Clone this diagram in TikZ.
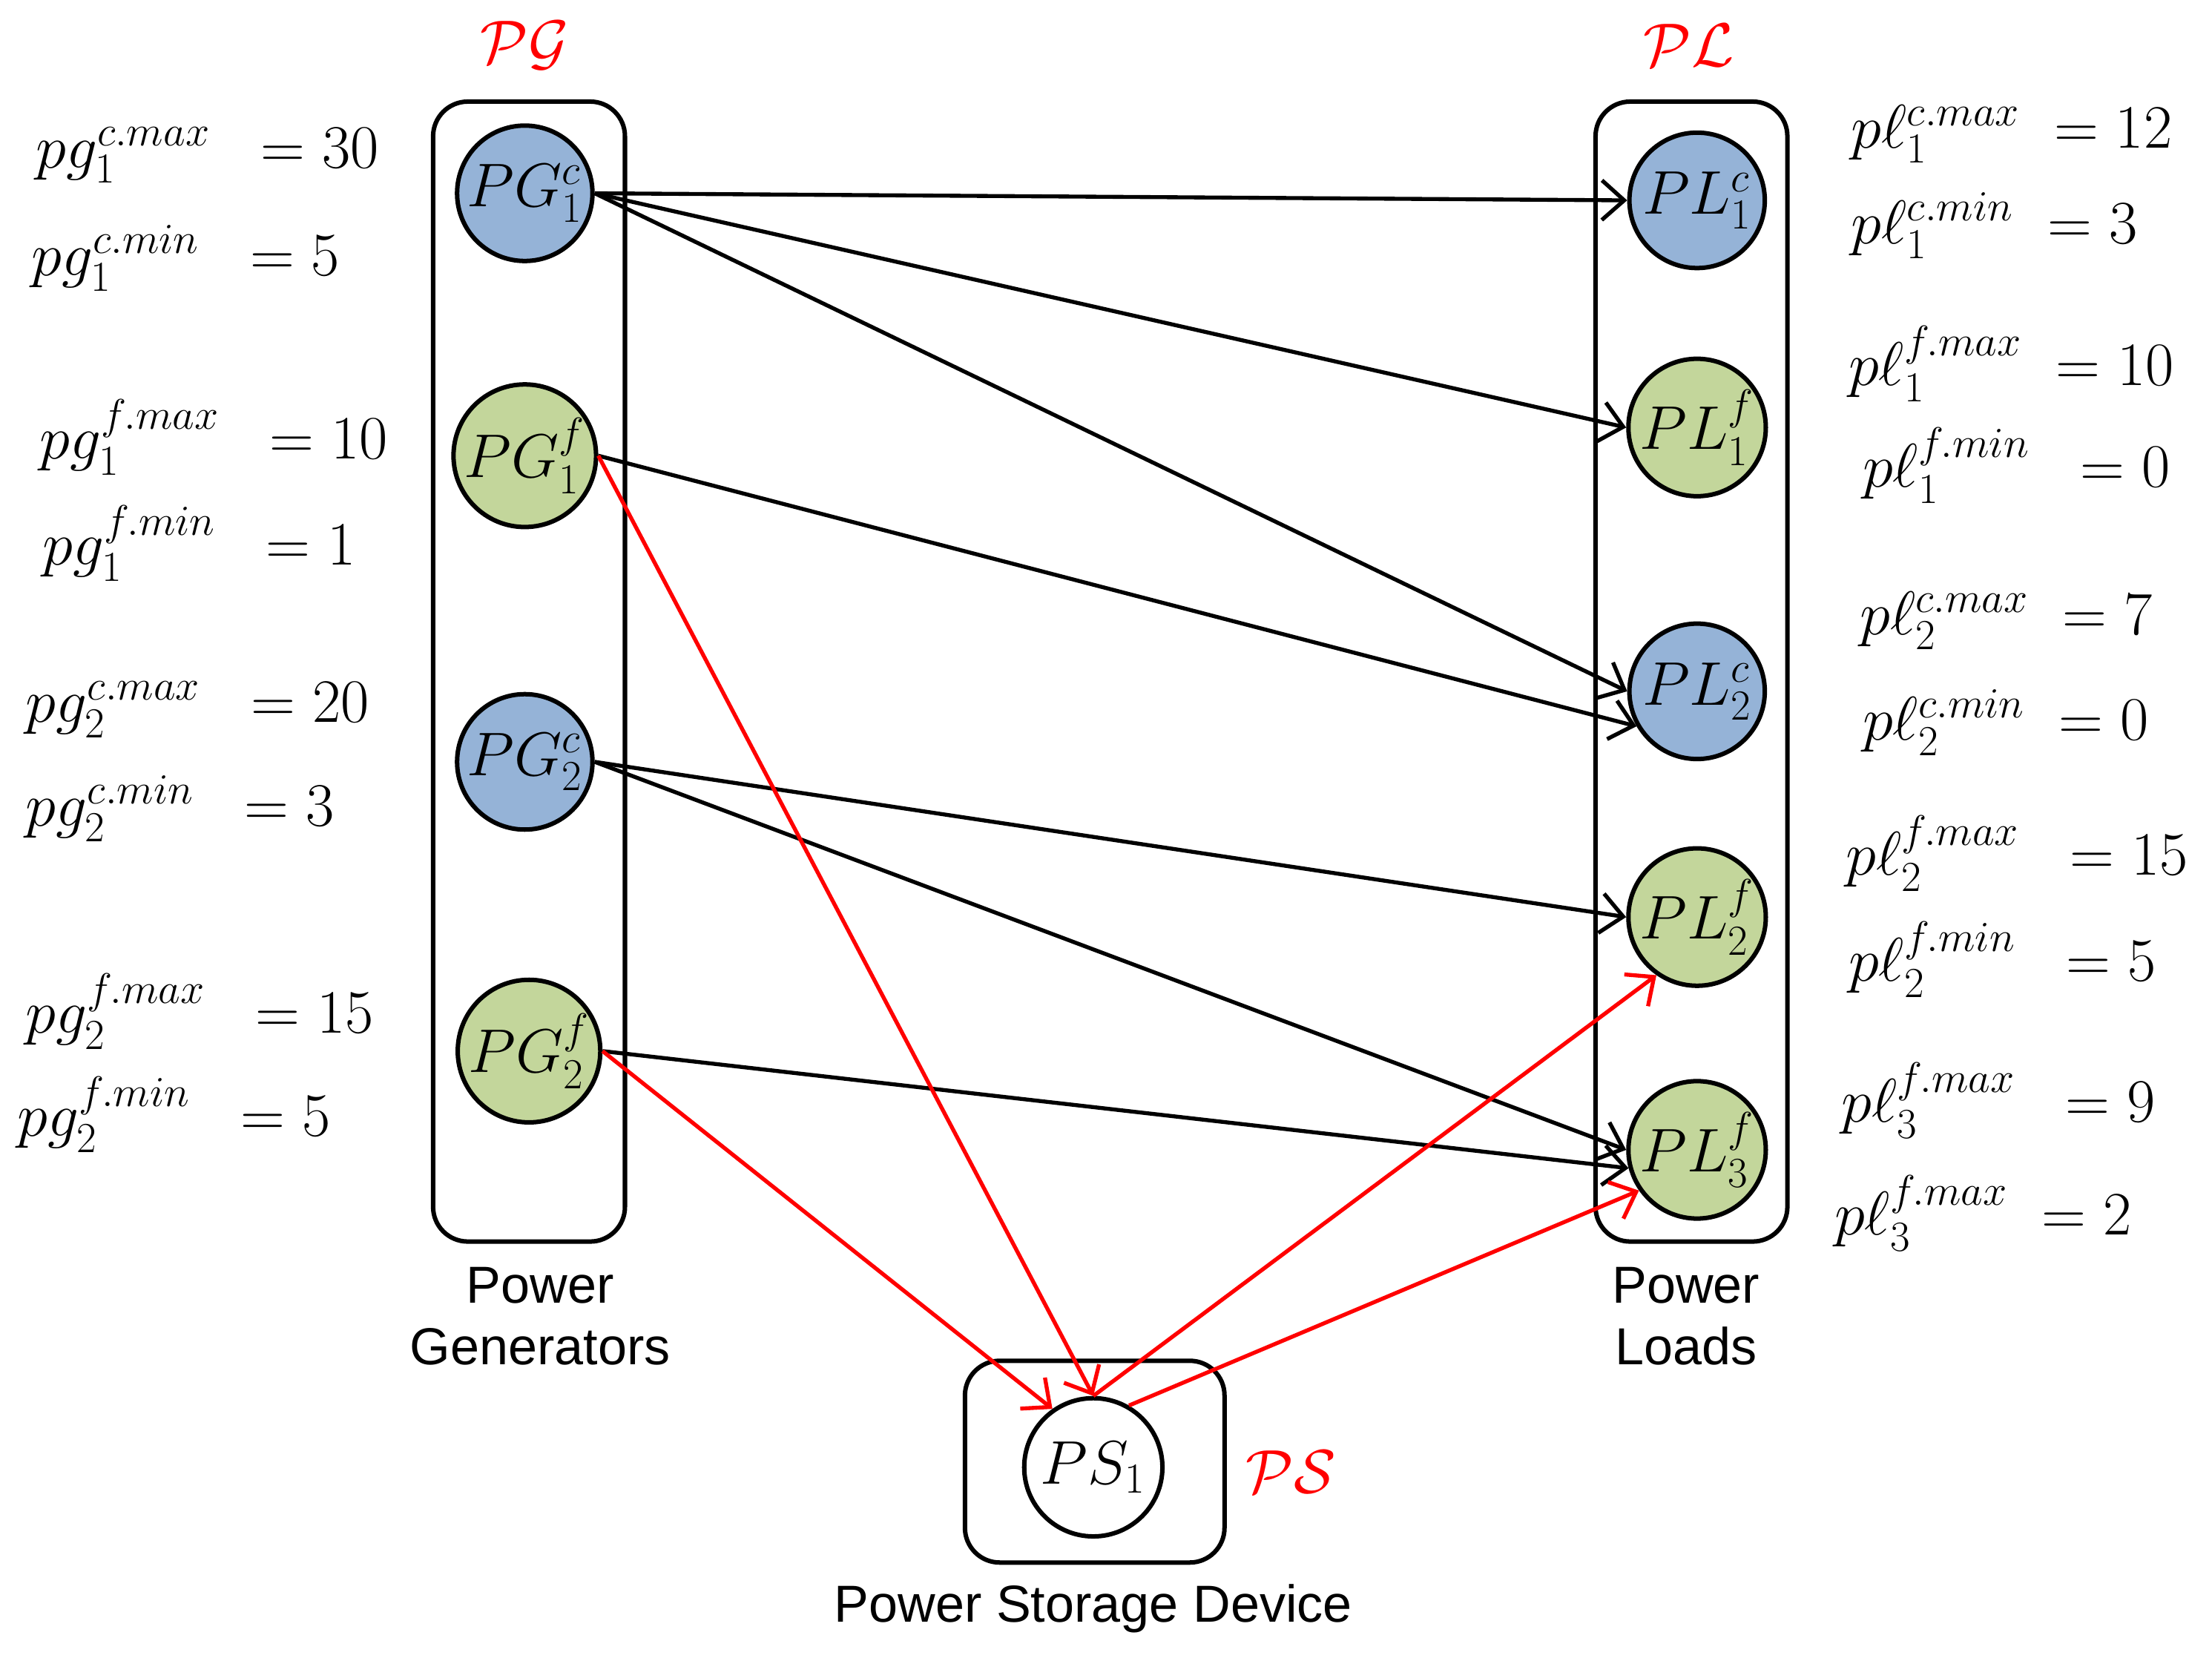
\documentclass[tikz,border=0pt]{standalone}
\usepackage{fontspec}
\setmainfont{Liberation Sans}
\usepackage{amsmath}
\usetikzlibrary{arrows.meta}
\begin{document}
\begin{tikzpicture}[x=0.02cm,y=-0.02cm,
  box/.style={draw,line width=1.8pt,rounded corners=14pt},
  nd/.style={circle,draw,line width=1.8pt,minimum size=1.92cm,inner sep=0pt,font=\fontsize{25}{28}\selectfont},
  lab/.style={anchor=west,font=\fontsize{24}{28}\selectfont,inner sep=0pt},
  captxt/.style={font=\fontsize{21}{25}\selectfont,align=center},
  red lab/.style={text=red,font=\fontsize{26}{30}\selectfont},
  ar/.style={line width=1.6pt,-{Straight Barb[length=9pt,width=16pt]}},
  rar/.style={ar,red}]
\useasboundingbox (0,0) rectangle (1568,1177);
\definecolor{nb}{HTML}{95B3D7}\definecolor{ng}{HTML}{C3D69B}
\node[box,minimum width=136*0.02cm,minimum height=808*0.02cm] (pgbox) at (375,476) {};
\node[box,minimum width=136*0.02cm,minimum height=808*0.02cm] (plbox) at (1199,476) {};
\node[box,minimum width=184*0.02cm,minimum height=143*0.02cm] (psbox) at (776,1036) {};
\node[red lab] (tpg) at (372,32) {$\mathcal{PG}$};
\node[red lab] (tpl) at (1197,32) {$\mathcal{PL}$};
\node[red lab] (tps) at (915,1043) {$\mathcal{PS}$};
\node[captxt] (c1) at (383,933) {Power\\Generators};
\node[captxt] (c2) at (1195,933) {Power\\Loads};
\node[captxt] (c3) at (775,1140) {Power Storage Device};
\node[nd,fill=nb] (g1c) at (372,137) {$PG_1^c$};
\node[nd,fill=ng] (g1f) at (372,323) {$PG_1^f$};
\node[nd,fill=nb] (g2c) at (372,540) {$PG_2^c$};
\node[nd,fill=ng] (g2f) at (375,745) {$PG_2^f$};
\node[nd,fill=nb] (l1c) at (1203,142) {$PL_1^c$};
\node[nd,fill=ng] (l1f) at (1203,303) {$PL_1^f$};
\node[nd,fill=nb] (l2c) at (1203,490) {$PL_2^c$};
\node[nd,fill=ng] (l2f) at (1203,650) {$PL_2^f$};
\node[nd,fill=ng] (l3f) at (1203,815) {$PL_3^f$};
\node[nd,fill=white,minimum size=1.96cm] (s1) at (775,1040) {$PS_1$};
% black edges
\draw[ar] (g1c.east) -- (l1c.west);
\draw[ar] (g1c.east) -- (l1f.west);
\draw[ar] (g1c.east) -- (l2c.west);
\draw[ar] (g1f.east) -- (l2c.210);
\draw[ar] (g2c.east) -- (l2f.west);
\draw[ar] (g2c.east) -- (l3f.west);
\draw[ar] (g2f.east) -- (l3f.195);
% red edges
\draw[rar] (g1f.east) -- (s1.north);
\draw[rar] (g2f.east) -- (s1.125);
\draw[rar] (s1.north) -- (l2f.235);
\draw[rar] (s1.60) -- (l3f.215);
% left labels
\node[lab] (a1) at (25,110) {$pg_1^{c.max}\ \ = 30$};
\node[lab] (a2) at (22,183) {$pg_1^{c.min}\ \ = 5$};
\node[lab] (a3) at (28,310) {$pg_1^{f.max}\ \ = 10$};
\node[lab] (a4) at (30,385) {$pg_1^{f.min}\ \ = 1$};
\node[lab] (a5) at (18,503) {$pg_2^{c.max}\ \ = 20$};
\node[lab] (a6) at (18,573) {$pg_2^{c.min}\ \ = 3$};
\node[lab] (a7) at (18,717) {$pg_2^{f.max}\ \ = 15$};
\node[lab] (a8) at (12,790) {$pg_2^{f.min}\ \ = 5$};
% right labels
\node[lab] (b1) at (1312,95) {$p\ell_1^{c.max}\ = 12$};
\node[lab] (b2) at (1312,160) {$p\ell_1^{c.min}\ =3$};
\node[lab] (b3) at (1310,258) {$p\ell_1^{f.max}\ =10$};
\node[lab] (b4) at (1320,330) {$p\ell_1^{f.min}\ \ = 0$};
\node[lab] (b5) at (1318,440) {$p\ell_2^{c.max}\ = 7$};
\node[lab] (b6) at (1320,512) {$p\ell_2^{c.min}\ =0$};
\node[lab] (b7) at (1308,605) {$p\ell_2^{f.max}\ \ = 15$};
\node[lab] (b8) at (1310,680) {$p\ell_2^{f.min}\ \ = 5$};
\node[lab] (b9) at (1305,780) {$p\ell_3^{f.max}\ \ = 9$};
\node[lab] (b10) at (1300,860) {$p\ell_3^{f.max}\ =2$};
\end{tikzpicture}
\end{document}
